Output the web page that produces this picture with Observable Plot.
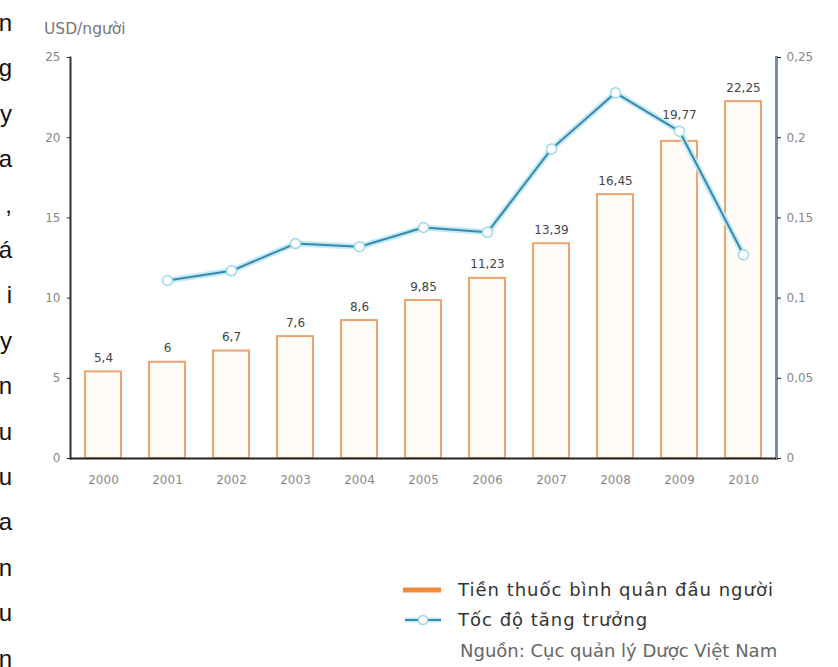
<!DOCTYPE html>
<html>
<head>
<meta charset="utf-8">
<script src="https://cdn.jsdelivr.net/npm/d3@7"></script>
<script src="https://cdn.jsdelivr.net/npm/@observablehq/plot@0.6"></script>
<style>
  body { margin: 0; width: 838px; height: 667px; overflow: hidden; background: #fff; position: relative; font-family: "DejaVu Sans", Verdana, sans-serif; }
  #chart { position: absolute; left: 0; top: 0; }
  #edge { position: absolute; left: -48px; top: 0px; width: 60px; text-align: right; font-family: "Liberation Sans", Arial, sans-serif; font-size: 24px; line-height: 45.4px; color: #111; }
  #unit { position: absolute; left: 44px; top: 20px; font-size: 15.5px; color: #777; white-space: nowrap; }
  .leg { position: absolute; font-size: 18px; line-height: 20px; color: #333; white-space: nowrap; }
  .sw { position: absolute; }
</style>
</head>
<body>
<div id="edge"></div>
<div id="chart"></div>
<div id="unit"></div>
<svg class="sw" style="left:400px;top:580px" width="44" height="50">
  <line x1="3" y1="10" x2="41" y2="10" stroke="#f28a3c" stroke-width="5"/>
  <line x1="5" y1="40" x2="41" y2="40" stroke="#bfe8f4" stroke-width="5"/>
  <line x1="5" y1="40" x2="41" y2="40" stroke="#3d8db2" stroke-width="1.8"/>
  <circle cx="23" cy="40" r="4.5" fill="#fff" stroke="#9ad8ea" stroke-width="1.5"/>
</svg>
<div class="leg" id="leg1" style="left:458px;top:580px;letter-spacing:1px"></div>
<div class="leg" id="leg2" style="left:458px;top:610px;letter-spacing:1px"></div>
<div class="leg" id="src" style="left:460px;top:641px;color:#666"></div>
<script>
const edgeLetters = ["n","g","y","a",",","á","i","y","n","u","u","a","n","u","n"];
const unitLabel = "USD/người";
const legendLabels = ["Tiền thuốc bình quân đầu người", "Tốc độ tăng trưởng"];
const sourceLabel = "Nguồn: Cục quản lý Dược Việt Nam";

const years = ["2000","2001","2002","2003","2004","2005","2006","2007","2008","2009","2010"];
const spending = [5.4, 6, 6.7, 7.6, 8.6, 9.85, 11.23, 13.39, 16.45, 19.77, 22.25];
const spendingLabels = ["5,4","6","6,7","7,6","8,6","9,85","11,23","13,39","16,45","19,77","22,25"];

const growthYears = ["2001","2002","2003","2004","2005","2006","2007","2008","2009","2010"];
const growth = [0.111, 0.117, 0.134, 0.132, 0.144, 0.141, 0.193, 0.228, 0.204, 0.127];

const leftTicks = [0, 5, 10, 15, 20, 25];
const rightTicks = [0, 0.05, 0.1, 0.15, 0.2, 0.25];
const rightTickLabels = ["0", "0,05", "0,1", "0,15", "0,2", "0,25"];

document.getElementById("edge").innerHTML = edgeLetters.map(c => `<div>${c}</div>`).join("");
document.getElementById("unit").textContent = unitLabel;
document.getElementById("leg1").textContent = legendLabels[0];
document.getElementById("leg2").textContent = legendLabels[1];
document.getElementById("src").textContent = sourceLabel;

// right axis values are mapped onto the left scale (0.25 -> 25)
const k = 25 / 0.25;
const bars = years.map((y, i) => ({year: y, value: spending[i], label: spendingLabels[i]}));
const line = growthYears.map((y, i) => ({year: y, value: growth[i] * k}));
const raisedLabel = "2009"; // label lifted above the growth line

const font = "DejaVu Sans, Verdana, sans-serif";
const chart = Plot.plot({
  width: 838,
  height: 667,
  marginLeft: 70,
  marginRight: 62,
  marginTop: 57,
  marginBottom: 209,
  style: {fontFamily: font, background: "transparent"},
  x: {domain: years, paddingInner: 0.44, paddingOuter: 0.22},
  y: {domain: [0, 25]},
  marks: [
    Plot.barY(bars, {x: "year", y: "value", fill: "#fffcf8", stroke: "#eda46e", strokeWidth: 2}),
    Plot.text(bars, {filter: d => d.year !== raisedLabel, x: "year", y: "value", text: "label", lineAnchor: "bottom", dy: -10, fontSize: 12, fill: "#444"}),
    Plot.text(bars, {filter: d => d.year === raisedLabel, x: "year", y: "value", text: "label", lineAnchor: "bottom", dy: -22, fontSize: 12, fill: "#444"}),
    Plot.line(line, {x: "year", y: "value", stroke: "#c2eaf5", strokeWidth: 6}),
    Plot.line(line, {x: "year", y: "value", stroke: "#3a88ac", strokeWidth: 2}),
    Plot.dot(line, {x: "year", y: "value", r: 5, fill: "#fff", stroke: "#9ad8ea", strokeWidth: 1.5}),
    Plot.frame({anchor: "left", stroke: "#333", strokeWidth: 2}),
    Plot.frame({anchor: "right", stroke: "#7b8fa0", strokeWidth: 3}),
    Plot.ruleY([0], {stroke: "#222", strokeWidth: 2}),
    Plot.axisY({anchor: "left", ticks: leftTicks, tickSize: 3, tickPadding: 7, fontSize: 12, color: "#888", stroke: "#222", label: null}),
    Plot.axisY({anchor: "right", ticks: rightTicks.map(v => v * k), tickSize: 4, tickPadding: 6, fontSize: 12, color: "#888", stroke: "#222", label: null,
      tickFormat: d => rightTickLabels[rightTicks.findIndex(t => Math.abs(t * k - d) < 1e-6)]}),
    Plot.axisX({anchor: "bottom", tickSize: 0, tickPadding: 17, fontSize: 12, color: "#888", label: null})
  ]
});
document.getElementById("chart").appendChild(chart);
</script>
</body>
</html>
